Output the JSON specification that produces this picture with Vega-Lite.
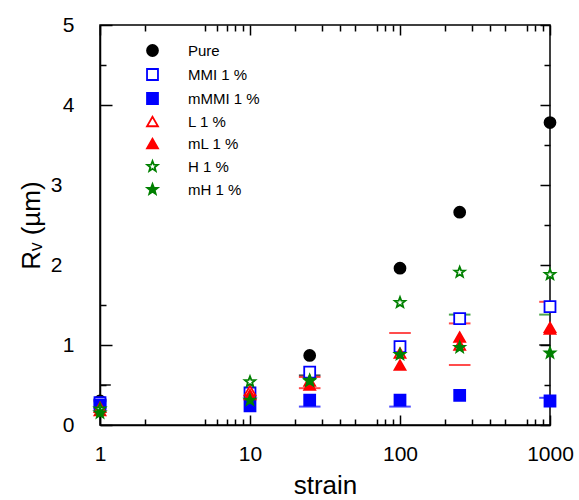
{
  "$schema": "https://vega.github.io/schema/vega-lite/v6.json",
  "width": 450,
  "height": 400,
  "autosize": {"type": "none"},
  "padding": {"left": 100, "top": 25, "right": 29, "bottom": 75},
  "config": {
    "view": {"stroke": "black", "strokeWidth": 1.5},
    "font": "Liberation Sans",
    "axis": {"domainColor": "black", "tickColor": "black", "labelColor": "black", "titleColor": "black", "grid": false, "domainWidth": 1.5, "tickWidth": 1.5, "labelFont": "Liberation Sans", "titleFont": "Liberation Sans", "titleFontWeight": "normal"}
  },
  "datasets": {
    "pts": [
      {"strain": 1, "Rv": 0.3, "series": "Pure"},
      {"strain": 25, "Rv": 0.87, "series": "Pure"},
      {"strain": 100, "Rv": 1.96, "series": "Pure"},
      {"strain": 250, "Rv": 2.66, "series": "Pure"},
      {"strain": 1000, "Rv": 3.78, "series": "Pure"},
      {"strain": 1, "Rv": 0.28, "series": "MMI 1 %"},
      {"strain": 10, "Rv": 0.4, "series": "MMI 1 %"},
      {"strain": 25, "Rv": 0.66, "series": "MMI 1 %"},
      {"strain": 100, "Rv": 0.98, "series": "MMI 1 %"},
      {"strain": 250, "Rv": 1.33, "series": "MMI 1 %"},
      {"strain": 1000, "Rv": 1.48, "series": "MMI 1 %"},
      {"strain": 1, "Rv": 0.25, "series": "mMMI 1 %"},
      {"strain": 10, "Rv": 0.24, "series": "mMMI 1 %"},
      {"strain": 25, "Rv": 0.31, "series": "mMMI 1 %"},
      {"strain": 100, "Rv": 0.31, "series": "mMMI 1 %"},
      {"strain": 250, "Rv": 0.37, "series": "mMMI 1 %"},
      {"strain": 1000, "Rv": 0.3, "series": "mMMI 1 %"},
      {"strain": 1, "Rv": 0.22, "series": "L 1 %"},
      {"strain": 10, "Rv": 0.43, "series": "L 1 %"},
      {"strain": 25, "Rv": 0.55, "series": "L 1 %"},
      {"strain": 100, "Rv": 0.9, "series": "L 1 %"},
      {"strain": 250, "Rv": 1.0, "series": "L 1 %"},
      {"strain": 1000, "Rv": 1.2, "series": "L 1 %"},
      {"strain": 1, "Rv": 0.18, "series": "mL 1 %"},
      {"strain": 10, "Rv": 0.38, "series": "mL 1 %"},
      {"strain": 25, "Rv": 0.5, "series": "mL 1 %"},
      {"strain": 100, "Rv": 0.75, "series": "mL 1 %"},
      {"strain": 250, "Rv": 1.1, "series": "mL 1 %"},
      {"strain": 1000, "Rv": 1.22, "series": "mL 1 %"},
      {"strain": 1, "Rv": 0.2, "series": "H 1 %"},
      {"strain": 10, "Rv": 0.54, "series": "H 1 %"},
      {"strain": 25, "Rv": 0.55, "series": "H 1 %"},
      {"strain": 100, "Rv": 1.53, "series": "H 1 %"},
      {"strain": 250, "Rv": 1.91, "series": "H 1 %"},
      {"strain": 1000, "Rv": 1.88, "series": "H 1 %"},
      {"strain": 1, "Rv": 0.15, "series": "mH 1 %"},
      {"strain": 10, "Rv": 0.31, "series": "mH 1 %"},
      {"strain": 25, "Rv": 0.56, "series": "mH 1 %"},
      {"strain": 100, "Rv": 0.88, "series": "mH 1 %"},
      {"strain": 250, "Rv": 0.97, "series": "mH 1 %"},
      {"strain": 1000, "Rv": 0.9, "series": "mH 1 %"}
    ],
    "caps": [
      {"strain": 1, "Rv": 0.5, "series": "Pure"},
      {"strain": 25, "Rv": 0.62, "series": "Pure"},
      {"strain": 25, "Rv": 0.6, "series": "L 1 %"},
      {"strain": 25, "Rv": 0.46, "series": "mL 1 %"},
      {"strain": 25, "Rv": 0.23, "series": "mMMI 1 %"},
      {"strain": 100, "Rv": 1.15, "series": "L 1 %"},
      {"strain": 100, "Rv": 0.23, "series": "mMMI 1 %"},
      {"strain": 250, "Rv": 1.38, "series": "H 1 %"},
      {"strain": 250, "Rv": 1.27, "series": "L 1 %"},
      {"strain": 250, "Rv": 0.75, "series": "L 1 %"},
      {"strain": 1000, "Rv": 1.54, "series": "L 1 %"},
      {"strain": 1000, "Rv": 1.38, "series": "H 1 %"},
      {"strain": 1000, "Rv": 0.34, "series": "mMMI 1 %"},
      {"strain": 1000, "Rv": 1.0, "series": "Pure"}
    ]
  },
  "layer": [
    {
      "data": {"name": "caps"},
      "mark": {"type": "tick", "orient": "horizontal", "size": 20, "thickness": 0.4, "filled": false, "strokeWidth": 1.6, "clip": true},
      "encoding": {
        "x": {"field": "strain", "type": "quantitative", "scale": {"type": "log", "domain": [1, 1000]},
          "axis": {"orient": "top", "labels": false, "title": null, "domain": false,
            "values": [1,2,5,6,7,8,9,10,20,30,40,50,70,80,90,100,200,300,400,500,700,800,900,1000],
            "tickSize": {"condition": {"test": "datum.value == 1 || datum.value == 10 || datum.value == 100 || datum.value == 1000", "value": -10}, "value": -6}}},
        "y": {"field": "Rv", "type": "quantitative", "scale": {"domain": [0, 5]},
          "axis": {"orient": "right", "labels": false, "title": null, "domain": false,
            "values": [0, 0.5, 1, 1.5, 2, 2.5, 3, 3.5, 4, 4.5, 5],
            "tickSize": {"condition": {"test": "datum.value % 1 == 0", "value": -10}, "value": -6}}},
        "stroke": {"field": "series", "type": "nominal", "legend": null,
          "scale": {"domain": ["Pure", "MMI 1 %", "mMMI 1 %", "L 1 %", "mL 1 %", "H 1 %", "mH 1 %"],
            "range": ["#000000", "#0000ff", "#0000ff", "#ff0000", "#ff0000", "#008000", "#008000"]}}
      }
    },
    {
      "data": {"name": "pts"},
      "mark": {"type": "point", "filled": false, "strokeWidth": 1.8, "size": 120, "opacity": 1},
      "encoding": {
        "x": {"field": "strain", "type": "quantitative", "scale": {"type": "log", "domain": [1, 1000]},
          "axis": {"orient": "bottom", "title": "strain", "titleFontSize": 26, "titlePadding": 8, "labelFontSize": 21, "labelPadding": 28, "labelFlush": false,
            "values": [1,2,5,6,7,8,9,10,20,30,40,50,70,80,90,100,200,300,400,500,700,800,900,1000],
            "labelExpr": "datum.value == 1 || datum.value == 10 || datum.value == 100 || datum.value == 1000 ? format(datum.value, 'd') : ''",
            "tickSize": {"condition": {"test": "datum.value == 1 || datum.value == 10 || datum.value == 100 || datum.value == 1000", "value": -10}, "value": -6}}},
        "y": {"field": "Rv", "type": "quantitative", "scale": {"domain": [0, 5]},
          "axis": {"orient": "left", "title": "Rᵥ (µm)", "titleFontSize": 26, "titlePadding": 6, "labelFontSize": 21, "labelPadding": 38, "labelFlush": false,
            "values": [0, 0.5, 1, 1.5, 2, 2.5, 3, 3.5, 4, 4.5, 5],
            "labelExpr": "datum.value % 1 == 0 ? format(datum.value, 'd') : ''",
            "tickSize": {"condition": [{"test": "datum.value >= 2 && datum.value <= 3.5", "value": 0}, {"test": "datum.value % 1 == 0", "value": -12}], "value": -6}}},
        "color": {"field": "series", "type": "nominal",
          "scale": {"domain": ["Pure", "MMI 1 %", "mMMI 1 %", "L 1 %", "mL 1 %", "H 1 %", "mH 1 %"],
            "range": ["#000000", "#0000ff", "#0000ff", "#ff0000", "#ff0000", "#008000", "#008000"]},
          "legend": {"orient": "none", "legendX": 45, "legendY": 18, "title": null, "padding": 0, "labelFontSize": 15, "labelFont": "Liberation Sans", "labelColor": "black", "symbolSize": 120, "symbolStrokeWidth": 1.8, "rowPadding": 5, "labelOffset": 28}},
        "shape": {"field": "series", "type": "nominal",
          "scale": {"domain": ["Pure", "MMI 1 %", "mMMI 1 %", "L 1 %", "mL 1 %", "H 1 %", "mH 1 %"],
            "range": ["circle", "square", "square", "triangle-up", "triangle-up", "M0,-1L0.247,-0.34L0.951,-0.309L0.399,0.13L0.588,0.809L0,0.42L-0.588,0.809L-0.399,0.13L-0.951,-0.309L-0.247,-0.34Z", "M0,-1L0.247,-0.34L0.951,-0.309L0.399,0.13L0.588,0.809L0,0.42L-0.588,0.809L-0.399,0.13L-0.951,-0.309L-0.247,-0.34Z"]},
          "legend": {"orient": "none", "legendX": 45, "legendY": 18, "title": null, "padding": 0, "labelFontSize": 15, "labelFont": "Liberation Sans", "labelColor": "black", "symbolSize": 120, "symbolStrokeWidth": 1.8, "rowPadding": 5, "labelOffset": 28}},
        "fill": {"field": "series", "type": "nominal",
          "scale": {"domain": ["Pure", "MMI 1 %", "mMMI 1 %", "L 1 %", "mL 1 %", "H 1 %", "mH 1 %"],
            "range": ["#000000", "#ffffff", "#0000ff", "#ffffff", "#ff0000", "#ffffff", "#008000"]},
          "legend": {"orient": "none", "legendX": 45, "legendY": 18, "title": null, "padding": 0, "labelFontSize": 15, "labelFont": "Liberation Sans", "labelColor": "black", "symbolSize": 120, "symbolStrokeWidth": 1.8, "rowPadding": 5, "labelOffset": 28}}
      }
    }
  ],
  "resolve": {"axis": {"x": "independent", "y": "independent"}, "scale": {"stroke": "independent"}}
}
